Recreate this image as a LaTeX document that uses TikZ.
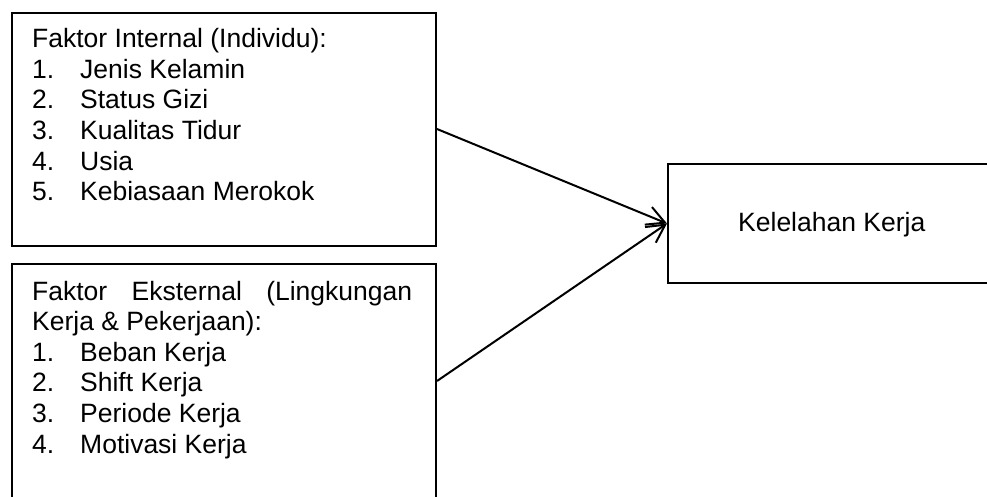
\documentclass[tikz,border=0pt]{standalone}
\usepackage{fontspec}
\setmainfont{Liberation Sans}
\usetikzlibrary{arrows.meta}

\tikzset{
  framebox/.style={draw=black, line width=2pt, fill=none, inner sep=0pt},
  listtext/.style={anchor=base west, inner sep=0pt, align=left,
    font=\fontsize{26.5pt}{30.6pt}\selectfont},
  link/.style={draw=black, line width=2pt,
    -{Straight Barb[length=18pt, width=19pt, line width=2pt]}},
}
\newcommand{\itemno}[1]{\makebox[48pt][l]{#1}}

\begin{document}
\begin{tikzpicture}[x=1pt, y=-1pt]
  \useasboundingbox (0,0) rectangle (987,496);
  \clip (0,0) rectangle (987,496);

  % boxes
  \node[framebox, minimum width=424pt, minimum height=233pt, anchor=north west]
    (internal) at (11,12) {};
  \node[framebox, minimum width=424pt, minimum height=260pt, anchor=north west]
    (external) at (11,263) {};
  \node[framebox, minimum width=360pt, minimum height=119pt, anchor=north west]
    (fatigue) at (667,163) {};

  % box contents (the base anchor sits on the last line)
  \node[listtext] (internaltext) at (32,200.7) {%
    Faktor Internal (Individu):\\
    \itemno{1.}Jenis Kelamin\\
    \itemno{2.}Status Gizi\\
    \itemno{3.}Kualitas Tidur\\
    \itemno{4.}Usia\\
    \itemno{5.}Kebiasaan Merokok};

  \node[listtext] (externaltext) at (32,453) {%
    \makebox[380pt][s]{Faktor Eksternal (Lingkungan}\\
    Kerja \& Pekerjaan):\\
    \itemno{1.}Beban Kerja\\
    \itemno{2.}Shift Kerja\\
    \itemno{3.}Periode Kerja\\
    \itemno{4.}Motivasi Kerja};

  \node[listtext] (fatiguetext) at (738,231.7) {Kelelahan Kerja};

  % connectors
  \coordinate (target) at (fatigue.west);
  \draw[link] (internal.east |- 0,129) -- (target);
  \draw[link] (external.east |- 0,381) -- (target);
\end{tikzpicture}
\end{document}
